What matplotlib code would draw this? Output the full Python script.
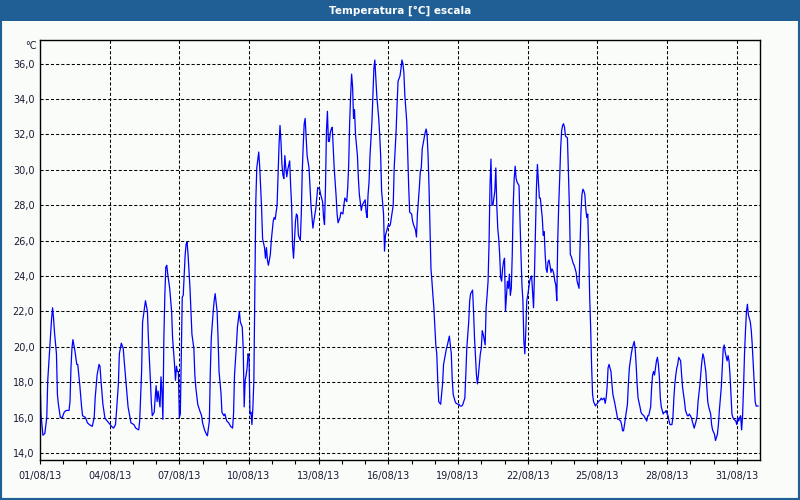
import datetime as dt
import matplotlib
matplotlib.use('Agg')
import matplotlib.pyplot as plt
import matplotlib.dates as mdates
from matplotlib.patches import Rectangle
from matplotlib.ticker import FuncFormatter

start = dt.datetime(2013, 8, 1)

# hours since 01/08/13 00:00 and the temperature read at that hour
hours = [
    0, 1, 3, 5, 7, 8, 10, 12, 13, 14, 15, 17, 18, 19, 21, 23,
    25, 27, 30, 31, 32, 33, 34, 36, 38, 39, 41, 43, 44, 47,
    49, 51, 54, 56, 57, 59, 61, 62, 63, 65, 67, 68, 71,
    74, 76, 78, 79, 81, 82, 84, 86, 87, 89, 91, 93, 94,
    97, 99, 102, 103, 105, 106, 108, 109, 111, 112, 114, 115, 116, 118, 119,
    120, 121, 122, 124, 125, 126, 127, 128, 129, 130, 131, 132, 134, 136, 137, 139, 140, 141, 142, 143,
    144, 145, 146, 147, 148, 149, 150, 151, 152, 153, 155, 156, 157, 159, 160, 161, 163, 165, 167,
    168, 170, 172, 173, 175, 176, 177, 179, 180, 181, 183, 184, 185, 187, 188, 190, 191,
    193, 195, 197, 199, 200, 201, 203, 204, 206, 207, 209, 210, 211, 212, 213, 214, 215,
    216, 217, 218, 219, 220, 221, 222, 223, 224, 226, 227, 228, 229, 230, 232, 233, 234, 235, 236, 238, 239,
    241, 242, 243, 245, 246, 247, 248, 249, 250, 251, 252, 253, 254, 255, 256, 258, 259, 260, 261, 262, 263,
    264, 265, 266, 267, 269, 270, 271, 272, 273, 274, 275, 276, 278, 279, 280, 282, 283, 285, 286, 287,
    289, 290, 292, 293, 294, 295, 296, 297, 298, 299, 300, 301, 302, 303, 304, 306, 307, 308, 310, 311,
    313, 314, 315, 317, 318, 319, 320, 321, 322, 323, 324, 325, 326, 328, 329, 330, 332, 333, 335,
    336, 337, 338, 339, 340, 341, 343, 344, 345, 346, 347, 348, 350, 351, 352, 353, 355, 356, 357, 359,
    360, 361, 362, 365, 366, 368, 369, 370, 372, 373, 374, 375, 376, 377, 379, 380, 381, 382, 384,
    385, 386, 388, 389, 390, 392, 393, 394, 395, 397, 398, 399, 400, 401, 402, 403, 404, 405, 406, 407,
    408, 409, 410, 411, 412, 414, 415, 416, 417, 419, 420, 421, 423, 424, 425, 426, 427, 429, 430,
    432, 433, 434, 436, 437, 439, 440, 441, 443, 444, 445, 447, 448, 449, 450, 451, 452, 453, 454, 455,
    456, 457, 458, 460, 461, 462, 463, 464, 465, 466, 467, 468, 469, 470, 471, 472, 473, 474, 475, 476, 477, 478, 479,
    480, 481, 483, 484, 485, 486, 487, 488, 489, 490, 491, 492, 493, 495, 496, 497, 498, 499, 500, 501, 502, 503,
    504, 505, 506, 507, 508, 509, 510, 511, 512, 513, 514, 515, 516, 517, 519, 520, 521, 522, 523, 524, 525, 526, 527,
    528, 529, 530, 531, 532, 533, 534, 535, 536, 537, 538, 539, 540, 541, 542, 543, 545, 546, 547, 548, 549, 550, 551,
    552, 553, 554, 555, 556, 557, 558, 559, 560, 561, 562, 563, 564, 565, 566, 567, 568, 569, 570, 571, 572, 574, 575,
    576, 577, 579, 580, 581, 583, 584, 585, 586, 587, 588, 590, 591, 592, 594, 595, 596, 597, 598,
    600, 601, 602, 603, 604, 605, 607, 608, 609, 611, 612, 613, 614, 615, 616, 617, 618, 620, 621, 622,
    624, 625, 627, 628, 629, 631, 632, 633, 634, 635, 636, 637, 638, 639, 640, 641, 642, 643, 644, 645, 646, 647,
    648, 649, 650, 651, 653, 654, 655, 656, 657, 658, 659, 660, 661, 662, 663, 664, 666, 667, 669, 670, 671,
    673, 674, 675, 676, 678, 679, 680, 682, 683, 684, 685, 686, 688, 689, 690, 691, 693, 694, 695,
    697, 698, 700, 701, 702, 704, 705, 706, 707, 708, 710, 711, 712, 713, 714, 715, 716, 717, 719,
    720, 721, 722, 723, 724, 725, 726, 727, 728, 729, 730, 731, 732, 734, 735, 736, 737, 738, 739, 740, 741, 742,
]
temps = [
    18.4, 16.2, 15.0, 15.1, 16.0, 18.1, 19.9, 21.6, 22.2, 21.6, 20.8, 19.6, 17.3, 16.75, 16.0, 16.0,
    16.3, 16.4, 16.4, 16.9, 18.8, 19.9, 20.4, 19.8, 19.0, 19.0, 17.9, 16.6, 16.1, 16.0,
    15.7, 15.6, 15.5, 16.0, 17.1, 18.4, 19.0, 18.9, 18.1, 16.75, 16.0, 15.9, 15.7,
    15.5, 15.4, 15.6, 16.3, 17.9, 19.6, 20.2, 19.9, 19.2, 17.9, 16.6, 16.0, 15.7,
    15.6, 15.4, 15.3, 15.8, 18.6, 21.4, 22.2, 22.6, 22.0, 20.5, 18.2, 16.9, 16.1, 16.3, 17.1,
    17.8, 16.9, 17.5, 16.6, 18.3, 17.5, 15.9, 20.5, 22.9, 24.5, 24.6, 24.1, 23.3, 22.0, 20.5, 19.0, 18.1, 18.9, 18.6, 18.6,
    16.0, 16.2, 19.6, 22.8, 22.9, 24.1, 25.2, 25.8, 25.9, 25.2, 23.3, 22.0, 20.7, 19.9, 18.4, 17.7, 16.75, 16.4, 16.1,
    15.7, 15.3, 15.05, 14.97, 15.8, 18.6, 20.5, 22.0, 22.6, 23.0, 22.0, 20.5, 18.6, 17.4, 16.3, 16.1, 16.2,
    15.8, 15.7, 15.5, 15.4, 16.2, 18.4, 20.1, 21.1, 22.0, 21.4, 21.1, 19.9, 16.6, 18.1, 18.4, 18.8, 19.6,
    19.4, 16.2, 16.3, 15.6, 16.6, 18.1, 22.9, 28.2, 30.1, 31.0, 30.2, 29.0, 27.8, 26.1, 25.6, 25.0, 25.6, 24.9, 24.6, 25.2, 26.0,
    27.1, 27.3, 27.2, 28.0, 29.7, 31.4, 32.5, 31.6, 30.3, 29.7, 29.5, 30.8, 30.1, 29.6, 30.0, 30.5, 29.1, 28.0, 25.7, 25.0, 26.0,
    27.1, 27.5, 27.4, 26.3, 26.0, 27.5, 29.9, 31.4, 32.6, 32.9, 31.9, 30.8, 30.1, 29.0, 28.0, 26.7, 27.1, 27.8, 28.4, 29.0,
    28.9, 28.6, 28.2, 27.3, 26.9, 29.0, 32.2, 33.3, 31.6, 31.6, 32.1, 32.3, 32.4, 31.2, 30.1, 28.5, 27.5, 27.0, 27.3, 27.6,
    27.5, 28.0, 28.4, 28.2, 29.0, 30.3, 32.7, 34.2, 35.4, 34.7, 32.9, 33.4, 32.0, 30.8, 29.5, 28.6, 27.7, 28.0, 28.2,
    28.3, 27.6, 27.3, 28.6, 29.3, 30.8, 32.7, 34.2, 35.7, 36.2, 35.2, 34.2, 32.9, 32.0, 30.8, 28.8, 27.5, 25.4, 26.3, 26.7,
    26.9, 26.8, 26.9, 28.0, 30.1, 32.2, 33.7, 35.0, 35.3, 35.7, 36.2, 36.0, 35.5, 34.2, 32.7, 30.8, 29.0, 27.6, 27.5,
    27.1, 26.9, 26.6, 26.2, 27.5, 29.0, 29.9, 30.1, 31.2, 31.8, 32.1, 32.3, 32.0, 30.8, 29.0, 26.7, 24.4, 23.7, 22.9, 22.2,
    21.1, 20.1, 19.6, 18.1, 16.9, 16.75, 17.3, 17.9, 19.0, 19.6, 19.9, 20.1, 20.6, 20.1, 19.6, 18.1, 17.3, 16.9, 16.8,
    16.75, 16.75, 16.65, 16.65, 16.75, 17.1, 18.4, 19.9, 21.4, 22.6, 23.0, 23.2, 22.0, 20.5, 19.4, 18.4, 17.9, 18.4, 19.0, 19.6,
    19.9, 20.9, 20.7, 20.1, 22.2, 22.9, 23.7, 25.8, 29.1, 30.6, 28.0, 28.0, 28.4, 28.8, 30.1, 28.0, 26.7, 26.1, 25.2, 23.9, 23.7, 24.4, 24.8,
    25.0, 22.0, 23.7, 23.3, 24.1, 22.9, 23.3, 25.2, 28.0, 29.5, 30.2, 29.5, 29.3, 29.1, 27.1, 25.2, 23.5, 22.6, 20.3, 19.6, 20.9, 22.6,
    22.9, 23.3, 23.7, 23.9, 24.0, 23.1, 22.2, 24.2, 26.7, 29.0, 30.3, 29.3, 28.4, 28.4, 27.3, 26.3, 26.5, 25.2, 24.4, 24.2, 24.8, 24.9, 24.6,
    24.2, 24.4, 24.3, 24.1, 23.7, 23.5, 22.6, 26.0, 28.0, 29.5, 31.2, 32.2, 32.5, 32.6, 32.4, 31.9, 31.8, 29.9, 28.0, 25.2, 25.1, 24.9, 24.7,
    24.6, 24.4, 24.2, 23.7, 23.5, 23.3, 25.6, 27.6, 28.6, 28.9, 28.8, 28.6, 27.8, 27.3, 27.5, 25.6, 22.8, 21.1, 18.9, 17.3, 16.9, 16.65, 16.75,
    16.8, 16.9, 17.0, 17.1, 17.0, 17.1, 16.8, 17.1, 17.7, 18.8, 19.0, 18.6, 17.9, 17.3, 16.8, 16.5, 16.2, 15.9, 15.9,
    15.8, 15.6, 15.25, 15.25, 15.6, 16.0, 16.75, 17.9, 18.8, 19.6, 19.9, 20.1, 20.3, 19.9, 19.0, 17.9, 17.1, 16.6, 16.3, 16.2,
    16.1, 16.0, 15.8, 16.1, 16.1, 16.6, 17.7, 18.4, 18.6, 18.4, 18.8, 19.2, 19.4, 19.0, 18.3, 17.1, 16.6, 16.4, 16.2, 16.3, 16.3, 16.4,
    16.2, 16.1, 15.8, 15.6, 15.6, 16.0, 17.1, 17.9, 18.4, 18.8, 19.0, 19.4, 19.3, 19.2, 18.4, 17.7, 16.9, 16.4, 16.1, 16.1, 16.2,
    16.0, 15.8, 15.6, 15.4, 15.8, 16.1, 16.9, 17.9, 18.6, 19.2, 19.6, 19.4, 18.6, 17.7, 16.9, 16.6, 16.2, 15.6, 15.3,
    15.05, 14.7, 15.05, 15.6, 16.4, 17.7, 18.8, 19.9, 20.1, 19.7, 19.2, 19.5, 19.2, 18.4, 17.3, 16.2, 16.0, 15.9, 15.8,
    15.6, 16.0, 15.8, 16.0, 16.1, 15.3, 16.1, 17.7, 19.6, 20.9, 22.0, 22.4, 21.8, 21.4, 20.9, 20.1, 19.0, 17.9, 16.9, 16.65, 16.65, 16.65,
]
assert len(hours) == len(temps)

y_ticks = [14, 16, 18, 20, 22, 24, 26, 28, 30, 32, 34, 36]
label_days = [1, 4, 7, 10, 13, 16, 19, 22, 25, 28, 31]
title = 'Temperatura [°C] escala'
unit = '°C'

frame = '#1f5f96'
bg = '#fafcfa'
txt = '#1a1a33'

times = [start + dt.timedelta(hours=h) for h in hours]

fig = plt.figure(figsize=(8, 5), dpi=100, facecolor=bg)

# title bar and window border
fig.patches.append(Rectangle((0, 1 - 21 / 500), 1, 21 / 500, transform=fig.transFigure,
                             facecolor=frame, edgecolor='none', zorder=0))
fig.patches.append(Rectangle((0, 0), 1, 1, transform=fig.transFigure,
                             fill=False, edgecolor=frame, lw=3, zorder=0))
fig.text(0.5, 1 - 10.5 / 500, title, color='white', weight='bold',
         ha='center', va='center', fontsize=7.5)
fig.text(31 / 800, 1 - 46 / 500, unit, color=txt, ha='center', va='center', fontsize=7)

ax = fig.add_axes([40 / 800, 40 / 500, 720 / 800, 420 / 500])
ax.set_facecolor(bg)
ax.plot(times, temps, color='#0000ff', lw=0.9)

ax.set_xlim(start, start + dt.timedelta(days=31))
ax.set_ylim(13.6, 37.33)
ax.set_yticks(y_ticks)
ax.yaxis.set_major_formatter(FuncFormatter(lambda v, p: f'{v:.1f}'.replace('.', ',')))
ax.set_xticks([dt.datetime(2013, 8, d) for d in label_days])
ax.set_xticks([dt.datetime(2013, 8, d) for d in range(1, 32)], minor=True)
ax.xaxis.set_major_formatter(mdates.DateFormatter('%d/%m/%y'))

ax.grid(True, which='major', color='black', linestyle=(0, (3, 2)), linewidth=0.75)
ax.set_axisbelow(True)
ax.tick_params(axis='x', which='both', direction='out', length=3, width=0.8,
               pad=5, labelsize=7, labelcolor=txt)
ax.tick_params(axis='y', length=0, pad=4, labelsize=7, labelcolor=txt)
for s in ax.spines.values():
    s.set_linewidth(1.0)
    s.set_color('black')

fig.savefig('out.png', dpi=100, facecolor=bg)
